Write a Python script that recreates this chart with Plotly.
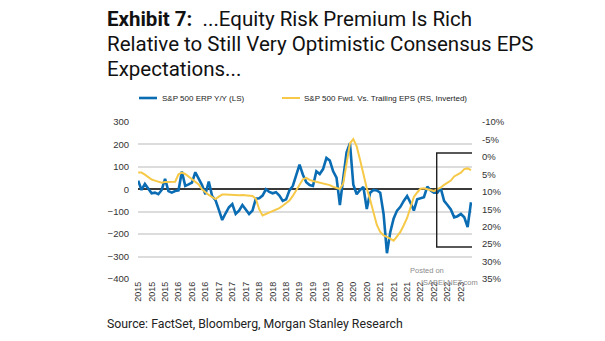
import plotly.graph_objects as go

# Monthly observations, Jan 2015 onwards
start_year = 2015
n_months = 100
months = [f"{start_year + i // 12}-{i % 12 + 1:02d}" for i in range(n_months)]

# S&P 500 equity risk premium, year-over-year change (bp, left scale)
erp_yoy = [
    38, -3, 24, 4, -18, -15, -22, -3, 46, -8,
    -15, -8, -5, 79, 15, 22, 30, 76, 49, 19,
    -22, 34, -30, -48, -92, -137, -107, -80, -66, -110,
    -95, -70, -90, -110, -95, -42, -40, -28, 0, -12,
    -18, -13, -28, -52, -45, -5, 15, 65, 110, 65,
    32, 19, 15, 80, 68, 90, 140, 128, 80, 52,
    -70, 50, 165, 205, 20, -22, -3, 10, -88, -15,
    -3, -5, -15, -110, -285, -190, -130, -95, -78, -52,
    -30, -60, -95, -45, -40, -35, 12, -5, -15, -15,
    5, -52, -70, -90, -125, -120, -110, -125, -168, -58,
]

# S&P 500 forward vs trailing EPS growth (%, right scale, inverted)
fwd_vs_trailing = [
    4.5, 4.5, 5.1, 5.8, 6.5, 6.8, 7.0, 7.4, 7.2, 7.1,
    7.1, 7.1, 5.0, 4.5, 4.9, 5.7, 6.3, 7.2, 7.9, 9.3,
    10.2, 10.9, 11.5, 12.1, 11.4, 10.8, 10.8, 10.9, 11.0, 11.1,
    11.0, 10.9, 11.0, 11.1, 11.2, 12.0, 15.0, 16.8, 16.4, 16.1,
    15.7, 15.2, 14.7, 14.0, 13.3, 12.5, 11.2, 9.5, 7.9, 6.4,
    6.0, 6.6, 6.9, 7.1, 7.4, 7.6, 7.9, 8.1, 8.6, 9.0,
    9.2, 7.6, 1.5, -3.9, -5.1, -3.0, 0.8, 5.0, 9.0, 12.3,
    16.0, 19.5, 21.5, 22.5, 22.9, 23.5, 24.0, 22.8, 21.5, 19.6,
    17.5, 14.5, 11.5, 10.2, 9.1, 9.0, 9.3, 9.6, 9.8, 9.2,
    8.8, 8.0, 7.5, 6.8, 5.6, 5.0, 4.5, 3.5, 3.3, 3.8,
]

left_ticks = [300, 200, 100, 0, -100, -200, -300, -400]
right_ticks = [-10, -5, 0, 5, 10, 15, 20, 25, 30, 35]
right_labels = [f"{v}%" for v in right_ticks]
x_tick_months = months[::4]
x_tick_labels = [m[:4] for m in x_tick_months]

series_names = ["S&P 500 ERP Y/Y (LS)", "S&P 500 Fwd. Vs. Trailing EPS (RS, Inverted)"]
title_lines = [
    "<b>Exhibit 7:</b>  ...Equity Risk Premium Is Rich",
    "Relative to Still Very Optimistic Consensus EPS",
    "Expectations...",
]

BLUE = "#0a6cb3"
GOLD = "#f7c948"
SANS = "Liberation Sans, Arial, sans-serif"

# Page geometry (pixels)
W, H = 605, 341
L, R, T, B = 138, 472, 122, 279


def fx(px):
    return (px - L) / (R - L)


def fy(py):
    return (B - py) / (B - T)


fig = go.Figure()
fig.add_trace(go.Scatter(
    x=months, y=erp_yoy, mode="lines", name=series_names[0],
    line=dict(color=BLUE, width=2.6), yaxis="y",
))
fig.add_trace(go.Scatter(
    x=months, y=fwd_vs_trailing, mode="lines", name=series_names[1],
    line=dict(color=GOLD, width=2.0), yaxis="y2",
))

axis_font = dict(family=SANS, size=9.5, color="#333333")

fig.update_layout(
    width=W, height=H,
    margin=dict(l=L, r=W - R, t=T, b=H - B, pad=0),
    paper_bgcolor="white", plot_bgcolor="white",
    showlegend=False,
    xaxis=dict(
        type="category", range=[-0.05, n_months - 0.7],
        tickmode="array", tickvals=x_tick_months, ticktext=x_tick_labels,
        tickangle=-90, tickfont=dict(family=SANS, size=9, color="#333333"),
        showgrid=False, showline=False, zeroline=False, ticks="",
    ),
    yaxis=dict(
        range=[-400, 300], tickmode="array", tickvals=left_ticks,
        tickfont=axis_font, showgrid=True, gridcolor="#dcdcdc", gridwidth=1.6,
        zeroline=True, zerolinecolor="#3a3a3a", zerolinewidth=1.6,
        showline=False, ticks="", ticklabelstandoff=8,
    ),
    yaxis2=dict(
        overlaying="y", side="right", range=[35, -10],
        tickmode="array", tickvals=right_ticks, ticktext=right_labels,
        tickfont=axis_font, showgrid=False, zeroline=False, showline=False,
        ticks="", ticklabelstandoff=9,
    ),
)

# Legend: short line swatches with labels above the plot
legend_items = [(BLUE, 2.6, 139, 157, 160), (GOLD, 2.0, 282, 300, 302)]
for (color, width, x0, x1, xt), name in zip(legend_items, series_names):
    fig.add_shape(type="line", xref="paper", yref="paper",
                  x0=fx(x0), x1=fx(x1), y0=fy(98), y1=fy(98),
                  line=dict(color=color, width=width))
    fig.add_annotation(xref="paper", yref="paper", x=fx(xt), y=fy(98),
                       xanchor="left", yanchor="middle", showarrow=False, text=name,
                       font=dict(family=SANS, size=8, color="#222222"))

# Highlight box over the most recent period
fig.add_shape(
    type="rect", xref="x", yref="y",
    x0=88.8, x1=99.9, y0=162, y1=-257,
    line=dict(color="#222222", width=1.4), fillcolor="rgba(0,0,0,0)",
)

# Title block, one annotation per line
for line, y_mid in zip(title_lines, [19, 44, 69]):
    fig.add_annotation(
        xref="paper", yref="paper", x=fx(105), y=fy(y_mid),
        xanchor="left", yanchor="middle", showarrow=False, text=line,
        font=dict(family="Roboto, sans-serif", size=20.5, color="#111111"),
    )

# Source line
fig.add_annotation(
    xref="paper", yref="paper", x=fx(105), y=fy(324), xanchor="left", yanchor="middle",
    showarrow=False, text="Source: FactSet, Bloomberg, Morgan Stanley Research",
    font=dict(family="Roboto, sans-serif", size=12.3, color="#222222"),
)

# Site credit
fig.add_annotation(
    xref="paper", yref="paper", x=fx(408), y=fy(270), xanchor="left", yanchor="middle",
    showarrow=False, text="Posted on",
    font=dict(family=SANS, size=7.5, color="#8c8c8c"),
)
fig.add_annotation(
    xref="paper", yref="paper", x=fx(419), y=fy(282), xanchor="left", yanchor="middle",
    showarrow=False, text="ISABELNET.com",
    font=dict(family=SANS, size=7.5, color="#8c8c8c"),
)

fig.write_html("out.html")
